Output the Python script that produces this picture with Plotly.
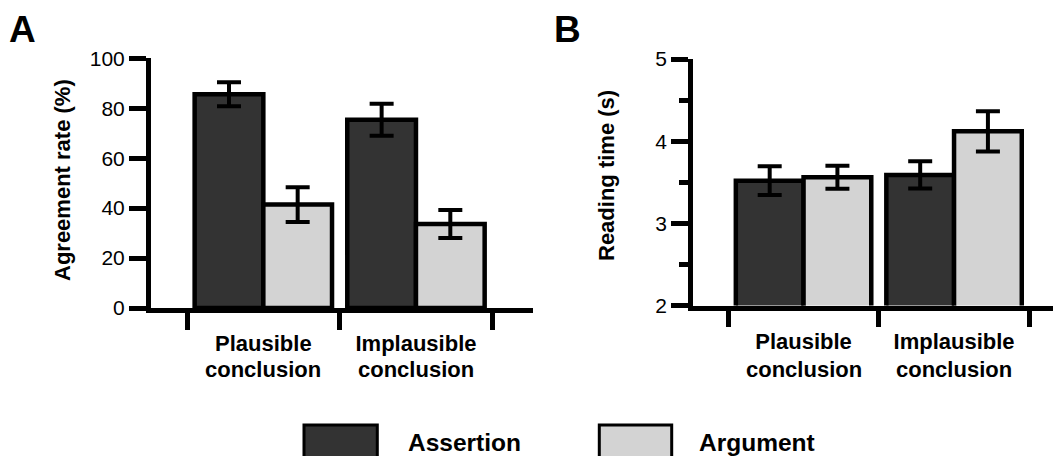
import plotly.graph_objects as go

PAGE_OFF = 8                      # default body margin of the html page
W, H = 1061 - PAGE_OFF, 456 - PAGE_OFF
FONT = "Liberation Sans, Arial, Helvetica, sans-serif"

categories = ["Plausible conclusion", "Implausible conclusion"]
series_names = ["Assertion", "Argument"]
series_colors = ["#333333", "#d3d3d3"]

# Panel A: Agreement rate (%)
agree_assertion = [85.6, 75.4]
agree_assertion_err = [4.8, 6.4]
agree_argument = [41.4, 33.6]
agree_argument_err = [7.0, 5.6]

# Panel B: Reading time (s)
read_assertion = [3.52, 3.59]
read_assertion_err = [0.175, 0.165]
read_argument = [3.56, 4.12]
read_argument_err = [0.14, 0.245]

yticks_A = [0, 20, 40, 60, 80, 100]
yticks_B = [2, 3, 4, 5]
yminor_B = [2.5, 3.5, 4.5]

LW = 4.5


def px(x):
    return (x - PAGE_OFF) / W


def py(y):
    return 1 - (y - PAGE_OFF) / H


fig = go.Figure()
xpos = list(range(len(categories)))
line1 = [c.split(" ", 1)[0] for c in categories]
line2 = [c.split(" ", 1)[1] for c in categories]

panels = [
    ("x", "y", [agree_assertion, agree_argument], [agree_assertion_err, agree_argument_err]),
    ("x2", "y2", [read_assertion, read_argument], [read_assertion_err, read_argument_err]),
]
for xa, ya, vals, errs in panels:
    for name, color, v, e in zip(series_names, series_colors, vals, errs):
        fig.add_trace(go.Bar(
            x=xpos, y=v, name=name, xaxis=xa, yaxis=ya,
            marker=dict(color=color, line=dict(color="black", width=LW)),
            error_y=dict(type="data", array=e, visible=True, color="black",
                         thickness=4, width=12),
            showlegend=False, offsetgroup=name,
        ))

catfont = dict(family=FONT, size=22, color="black", weight="bold")
common_x = dict(
    showline=True, linecolor="black", linewidth=LW, showgrid=False, zeroline=False,
    tickmode="array", tickvals=xpos, ticktext=line1, ticks="",
    tickfont=catfont, ticklabelstandoff=12, automargin=False,
    minor=dict(tickmode="array", tickvals=[-0.5, 0.5, 1.5], ticks="outside",
               ticklen=17, tickwidth=LW, tickcolor="black", showgrid=False),
    fixedrange=True,
)
common_y = dict(
    showline=True, linecolor="black", linewidth=LW, showgrid=False, zeroline=False,
    ticks="outside", ticklen=17, tickwidth=LW, tickcolor="black",
    tickfont=dict(family=FONT, size=21, color="black"), automargin=False,
    fixedrange=True,
)

xrA = [-0.7375, 1.7647]
xrB = [-0.7349, 1.7106]

fig.update_layout(
    template="none",
    width=W, height=H,
    margin=dict(l=0, r=0, t=0, b=0, pad=0, autoexpand=False),
    paper_bgcolor="white", plot_bgcolor="white",
    barmode="group", bargap=0.1, bargroupgap=0,
    showlegend=False,
    xaxis=dict(common_x, domain=[px(150.75), px(532.7)], range=xrA, anchor="y"),
    yaxis=dict(common_y, domain=[py(308.0), py(58.3)], range=[0, 100],
               tickvals=yticks_A, anchor="x"),
    xaxis2=dict(common_x, domain=[px(692.95), 1.0], range=xrB, anchor="y2"),
    yaxis2=dict(common_y, domain=[py(305.55), py(59.0)], range=[2, 5],
                tickvals=yticks_B, anchor="x2",
                minor=dict(tickmode="array", tickvals=yminor_B, ticks="outside",
                           ticklen=9, tickwidth=LW, tickcolor="black", showgrid=False)),
)

# Second line of each category label
for xr in ("x", "x2"):
    for xi, txt in zip(xpos, line2):
        fig.add_annotation(text=f"<b>{txt}</b>", x=xi, xref=xr, y=py(369), yref="paper",
                           xanchor="center", yanchor="middle", showarrow=False,
                           font=dict(family=FONT, size=22, color="black"))

# Axis titles and panel letters
fig.add_annotation(text="<b>Agreement rate (%)</b>", textangle=-90, x=px(62), y=py(180),
                   xref="paper", yref="paper", xanchor="center", yanchor="middle",
                   showarrow=False, font=dict(family=FONT, size=22, color="black"))
fig.add_annotation(text="<b>Reading time (s)</b>", textangle=-90, x=px(606), y=py(176),
                   xref="paper", yref="paper", xanchor="center", yanchor="middle",
                   showarrow=False, font=dict(family=FONT, size=22, color="black"))
for letter, cx in (("A", 22), ("B", 567.5)):
    fig.add_annotation(text=f"<b>{letter}</b>", x=px(cx), y=1.0, xref="paper", yref="paper",
                       xanchor="center", yanchor="top", showarrow=False, borderpad=0,
                       font=dict(family=FONT, size=37, color="black"))

# Custom legend (large swatches)
legend_boxes = [(304, 377.3, 406.7), (599.3, 671.7, 698.3)]
for (x0, x1, tx), name, color in zip(legend_boxes, series_names, series_colors):
    fig.add_shape(type="rect", xref="paper", yref="paper",
                  x0=px(x0), x1=px(x1), y0=py(425), y1=py(490),
                  fillcolor=color, line=dict(color="black", width=3))
    fig.add_annotation(text=f"<b>{name}</b>", x=px(tx), y=py(442), xref="paper", yref="paper",
                       xanchor="left", yanchor="middle", showarrow=False, borderpad=0,
                       font=dict(family=FONT, size=24.5, color="black"))

fig.write_html("out.html")
